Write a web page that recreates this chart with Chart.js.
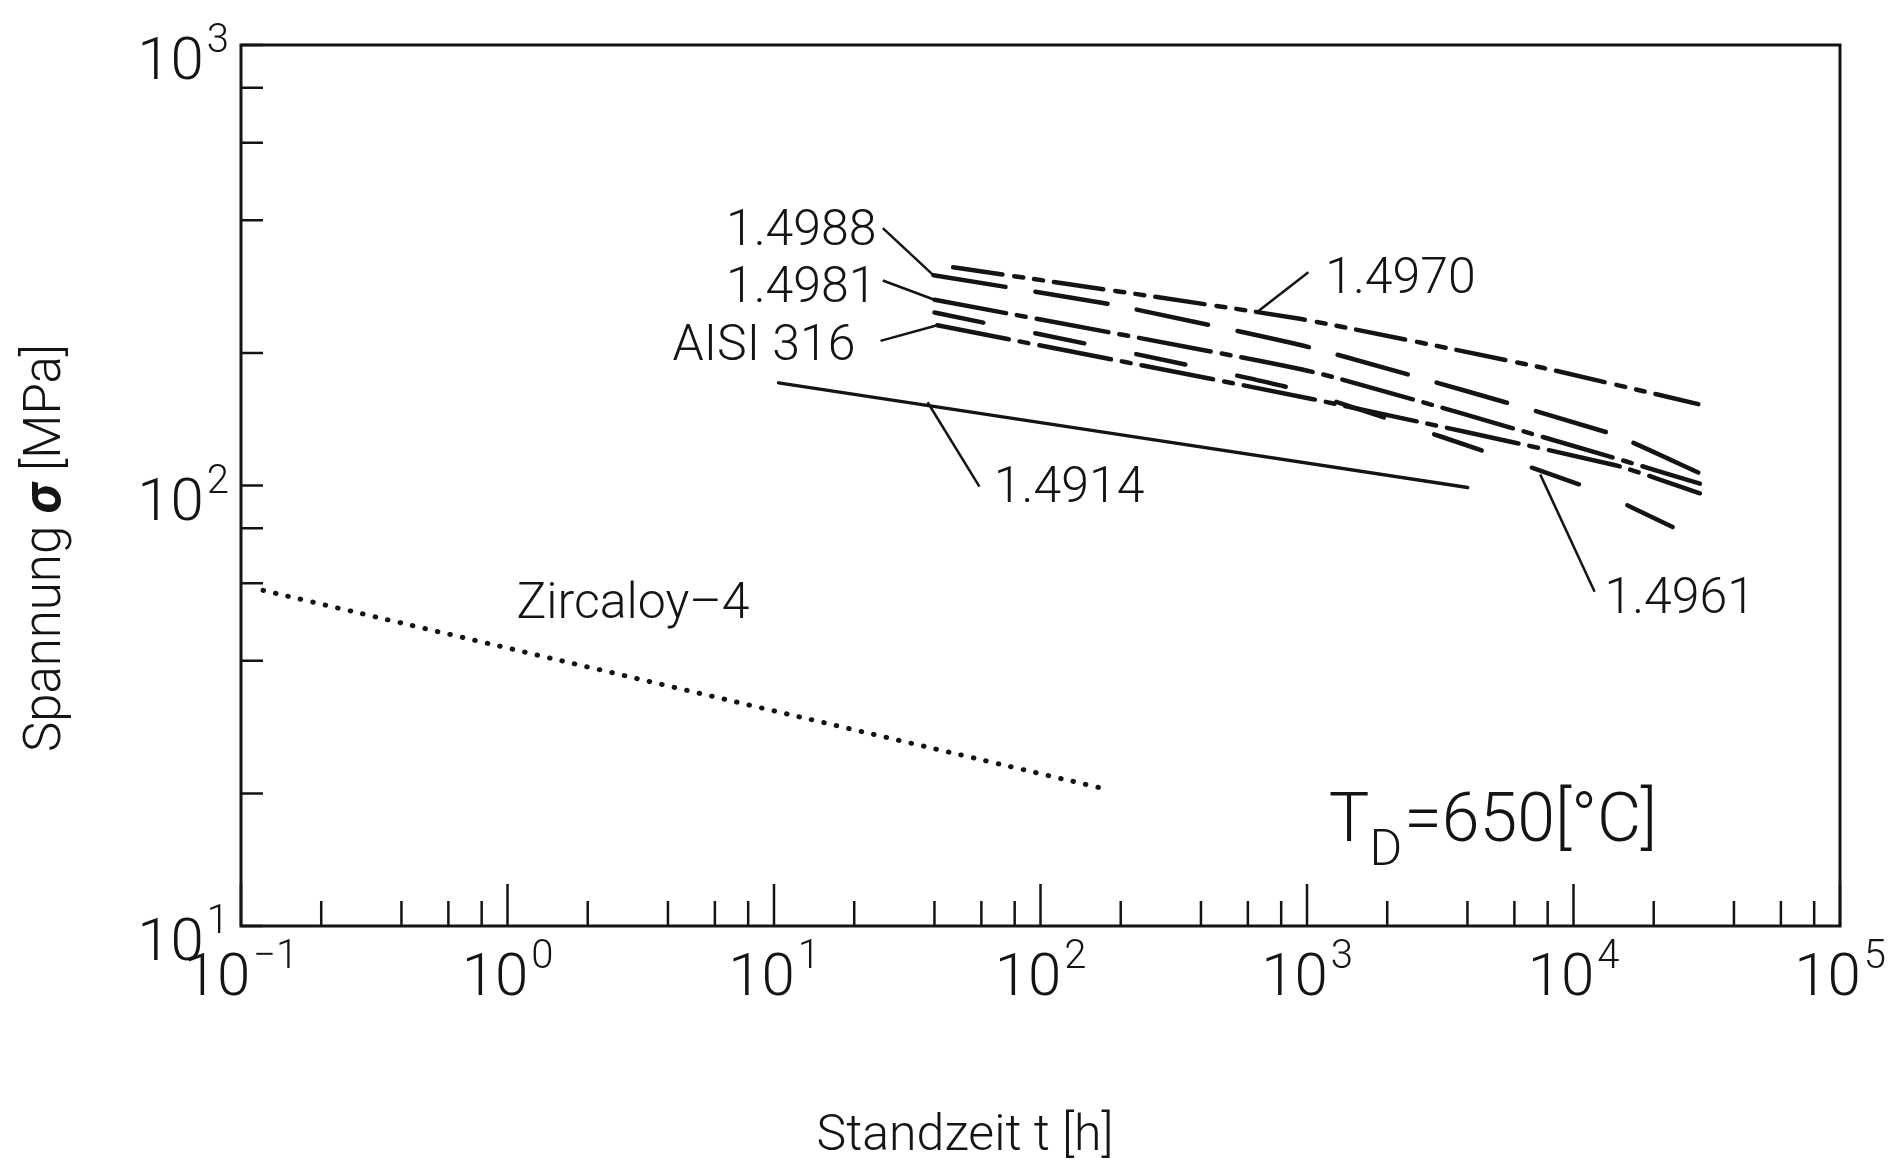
<!DOCTYPE html>
<html>
<head>
<meta charset="utf-8">
<title>Zeitstandfestigkeit bei 650 °C</title>
<script src="https://cdn.jsdelivr.net/npm/chart.js@4.4.1/dist/chart.umd.min.js"></script>
<style>
  html, body { margin: 0; padding: 0; background: #fff; }
  #wrap { width: 1894px; height: 1160px; position: relative; }
</style>
</head>
<body>
<div id="wrap"><canvas id="creepChart"></canvas></div>
<script>
// ---- values: t = Standzeit [h], s = Spannung [MPa] ----
const zircT = [0.121, 167];
const zircS = [57.8, 20.6];

const t4914 = [10.4, 4010];
const s4914 = [171, 99];

const t4970 = [47, 940, 7660, 29400];
const s4970 = [313, 239, 185, 153];

const t4988 = [39.7, 182, 1054, 13900, 29400];
const s4988 = [300, 258, 205, 131, 107];

const t4981 = [40, 1054, 13900, 29800];
const s4981 = [264, 181, 116, 101];

const t4961 = [40, 883, 11300, 25500];
const s4961 = [247, 166, 99, 78.7];

const tAisi = [41, 1054, 14500, 29800];
const sAisi = [231, 157, 111, 96];

// axis decades and minor tick multipliers
const xExp = [-1, 0, 1, 2, 3, 4, 5];
const yExp = [1, 2, 3];
const minorMult = [2, 4, 6, 8];

const ink = '#141414';
const fam = 'Roboto, "Liberation Sans", sans-serif';

// text labels with leader lines, placed in data units
const notes = [
  { text: '1.4988', t: 6.6, s: 351, from: [25.6, 384], to: [39.7, 300] },
  { text: '1.4981', t: 6.6, s: 261, from: [25.6, 292], to: [40, 264] },
  { text: 'AISI 316', t: 4.16, s: 193, from: [25.1, 213], to: [41, 231] },
  { text: '1.4970', t: 1170, s: 274, from: [1012, 305], to: [652, 248] },
  { text: '1.4914', t: 66.8, s: 91.6, from: [59, 99.4], to: [37.7, 154.5] },
  { text: '1.4961', t: 13060, s: 51.3, from: [12000, 57.4], to: [7500, 106] },
  { text: 'Zircaloy\u20134', t: 1.08, s: 50 },
];

const pts = (ts, ss) => ts.map((t, i) => ({ x: t, y: ss[i] }));

function power(ctx, exp, x, base, align) {
  ctx.font = '300 60px ' + fam;
  const wb = ctx.measureText('10').width;
  ctx.font = '300 40px ' + fam;
  const ws = ctx.measureText(exp).width;
  const total = wb + 3 + ws;
  const x0 = align === 'center' ? x - total / 2 : x - total;
  ctx.textAlign = 'left';
  ctx.textBaseline = 'alphabetic';
  ctx.font = '300 60px ' + fam;
  ctx.fillText('10', x0, base);
  ctx.font = '300 40px ' + fam;
  ctx.fillText(exp, x0 + wb + 3, base - 27);
}

const frameAndText = {
  id: 'frameAndText',
  afterDraw(chart) {
    const { ctx, chartArea: a, scales: { x, y } } = chart;
    ctx.save();
    ctx.strokeStyle = ink;
    ctx.fillStyle = ink;

    // frame
    ctx.lineWidth = 3;
    ctx.strokeRect(a.left, a.top, a.right - a.left, a.bottom - a.top);

    // ticks, pointing inwards
    ctx.lineWidth = 2.5;
    ctx.beginPath();
    xExp.forEach((e, i) => {
      const px = x.getPixelForValue(Math.pow(10, e));
      ctx.moveTo(px, a.bottom);
      ctx.lineTo(px, a.bottom - 42);
      if (i < xExp.length - 1) {
        minorMult.forEach(m => {
          const mx = x.getPixelForValue(m * Math.pow(10, e));
          ctx.moveTo(mx, a.bottom);
          ctx.lineTo(mx, a.bottom - 25);
        });
      }
    });
    yExp.forEach((e, i) => {
      const py = y.getPixelForValue(Math.pow(10, e));
      ctx.moveTo(a.left, py);
      ctx.lineTo(a.left + 22, py);
      if (i < yExp.length - 1) {
        minorMult.forEach(m => {
          const my = y.getPixelForValue(m * Math.pow(10, e));
          ctx.moveTo(a.left, my);
          ctx.lineTo(a.left + 22, my);
        });
      }
    });
    ctx.stroke();

    // tick labels
    xExp.forEach(e => {
      const px = x.getPixelForValue(Math.pow(10, e));
      power(ctx, String(e).replace('-', '\u2212'), px, a.bottom + 69, 'center');
    });
    yExp.forEach(e => {
      const py = y.getPixelForValue(Math.pow(10, e));
      power(ctx, String(e), a.left - 12, py + 34, 'right');
    });

    // axis titles
    ctx.font = '300 50px ' + fam;
    ctx.textAlign = 'center';
    ctx.textBaseline = 'alphabetic';
    ctx.fillText('Standzeit t [h]', 965, 1150);

    ctx.save();
    ctx.translate(60, 548);
    ctx.rotate(-Math.PI / 2);
    const p1 = 'Spannung ', p2 = '\u03c3', p3 = ' [MPa]';
    ctx.font = '300 51px ' + fam;
    const w1 = ctx.measureText(p1).width, w3 = ctx.measureText(p3).width;
    ctx.font = 'italic 700 54px ' + fam;
    const w2 = ctx.measureText(p2).width;
    const cx = -(w1 + w2 + w3) / 2;
    ctx.textAlign = 'left';
    ctx.font = '300 51px ' + fam;
    ctx.fillText(p1, cx, 0);
    ctx.font = 'italic 700 54px ' + fam;
    ctx.fillText(p2, cx + w1, 0);
    ctx.font = '300 51px ' + fam;
    ctx.fillText(p3, cx + w1 + w2, 0);
    ctx.restore();

    // curve labels and leaders
    ctx.textAlign = 'left';
    ctx.font = '300 50px ' + fam;
    ctx.lineWidth = 2.5;
    notes.forEach(n => {
      ctx.fillText(n.text, x.getPixelForValue(n.t), y.getPixelForValue(n.s));
      if (n.from) {
        ctx.beginPath();
        ctx.moveTo(x.getPixelForValue(n.from[0]), y.getPixelForValue(n.from[1]));
        ctx.lineTo(x.getPixelForValue(n.to[0]), y.getPixelForValue(n.to[1]));
        ctx.stroke();
      }
    });

    // T_D = 650 [°C]
    let tx = x.getPixelForValue(1208);
    const ty = y.getPixelForValue(15.6);
    ctx.font = '300 68px ' + fam;
    ctx.fillText('T', tx, ty);
    tx += ctx.measureText('T').width;
    ctx.font = '300 50px ' + fam;
    ctx.fillText('D', tx, ty + 24);
    tx += ctx.measureText('D').width + 2;
    ctx.font = '300 68px ' + fam;
    ctx.fillText('=650[\u00b0C]', tx, ty);

    ctx.restore();
  }
};

const line = (data, dash, width) => ({
  data,
  borderColor: ink,
  borderWidth: width || 4.5,
  borderDash: dash,
  borderCapStyle: 'round',
  pointRadius: 0,
  tension: 0.15,
  fill: false,
});

const ctx = document.getElementById('creepChart').getContext('2d');

new Chart(ctx, {
  type: 'line',
  data: {
    datasets: [
      line(pts(zircT, zircS), [0.5, 12.3], 5),
      line(pts(t4914, s4914), [], 3.5),
      line(pts(t4970, s4970), [50, 12, 9, 11, 9, 11]),
      line(pts(t4988, s4988), [73, 30]),
      line(pts(t4981, s4981), [73, 11, 9, 11]),
      line(pts(t4961, s4961), [50, 53]),
      line(pts(tAisi, sAisi), [73, 11, 9, 11]),
    ],
  },
  options: {
    responsive: true,
    maintainAspectRatio: false,
    animation: false,
    layout: { padding: { left: 241, right: 54, top: 45, bottom: 234 } },
    plugins: { legend: { display: false }, tooltip: { enabled: false } },
    scales: {
      x: { type: 'logarithmic', min: 0.1, max: 100000, display: false },
      y: { type: 'logarithmic', min: 10, max: 1000, display: false },
    },
  },
  plugins: [frameAndText],
});
</script>
</body>
</html>
